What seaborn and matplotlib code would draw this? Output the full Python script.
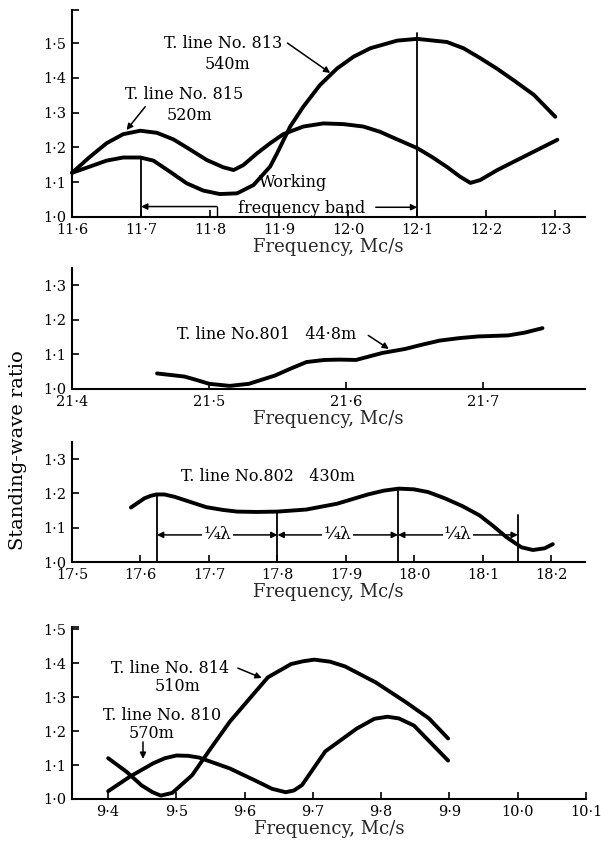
import numpy as np
import pandas as pd
import matplotlib
matplotlib.use('Agg')
import matplotlib.pyplot as plt
import seaborn as sns

# --- data (frequency in Mc/s, standing-wave ratio) ---

# top panel: lines 813 and 815
f813 = [11.6, 11.626, 11.65, 11.674, 11.699, 11.718, 11.742, 11.766, 11.79, 11.814,
        11.839, 11.863, 11.887, 11.897, 11.916, 11.935, 11.959, 11.984, 12.008, 12.032,
        12.071, 12.1, 12.143, 12.167, 12.191, 12.215, 12.239, 12.269, 12.3]
s813 = [1.127, 1.145, 1.162, 1.171, 1.171, 1.162, 1.130, 1.097, 1.076, 1.066,
        1.068, 1.092, 1.145, 1.183, 1.26, 1.317, 1.379, 1.427, 1.461, 1.485,
        1.507, 1.512, 1.503, 1.485, 1.457, 1.427, 1.394, 1.351, 1.288]
f815 = [11.6, 11.626, 11.65, 11.674, 11.699, 11.723, 11.747, 11.771, 11.795, 11.819,
        11.834, 11.848, 11.868, 11.887, 11.906, 11.935, 11.964, 11.993, 12.022, 12.046,
        12.071, 12.1, 12.121, 12.143, 12.162, 12.177, 12.191, 12.216, 12.259, 12.303]
s815 = [1.127, 1.173, 1.212, 1.238, 1.248, 1.242, 1.223, 1.194, 1.164, 1.143,
        1.135, 1.149, 1.183, 1.212, 1.238, 1.26, 1.269, 1.267, 1.26, 1.245,
        1.223, 1.198, 1.173, 1.144, 1.116, 1.098, 1.106, 1.135, 1.178, 1.222]
band_edges = [11.7, 12.1]
band_tops = [1.171, 1.53]
ticks1 = [11.6, 11.7, 11.8, 11.9, 12.0, 12.1, 12.2, 12.3]

# second panel: line 801
f801 = [21.462, 21.482, 21.49, 21.5, 21.515, 21.529, 21.548, 21.56, 21.571, 21.584,
        21.595, 21.607, 21.626, 21.643, 21.655, 21.668, 21.682, 21.696, 21.718, 21.73,
        21.743]
s801 = [1.045, 1.036, 1.027, 1.015, 1.009, 1.015, 1.039, 1.06, 1.078, 1.084,
        1.085, 1.084, 1.104, 1.116, 1.128, 1.14, 1.147, 1.152, 1.155, 1.163,
        1.176]
ticks2 = [21.4, 21.5, 21.6, 21.7]

# third panel: line 802 and quarter-wave markers
f802 = [17.586, 17.606, 17.615, 17.623, 17.635, 17.65, 17.696, 17.72, 17.741, 17.77,
        17.8, 17.842, 17.887, 17.932, 17.955, 17.977, 17.999, 18.02, 18.044, 18.07,
        18.095, 18.115, 18.134, 18.156, 18.173, 18.19, 18.202]
s802 = [1.159, 1.186, 1.193, 1.197, 1.197, 1.19, 1.16, 1.152, 1.147, 1.146,
        1.147, 1.153, 1.17, 1.197, 1.208, 1.214, 1.212, 1.204, 1.186, 1.163,
        1.136, 1.105, 1.073, 1.043, 1.035, 1.04, 1.052]
quarter_f = [17.624, 17.80, 17.976, 18.151]
quarter_top = [1.197, 1.147, 1.214, 1.136]
ticks3 = [17.5, 17.6, 17.7, 17.8, 17.9, 18.0, 18.1, 18.2]

# bottom panel: lines 814 and 810
f814 = [9.4, 9.427, 9.449, 9.465, 9.477, 9.494, 9.523, 9.55, 9.578, 9.607,
        9.634, 9.668, 9.685, 9.702, 9.725, 9.747, 9.792, 9.836, 9.87, 9.898]
s814 = [1.12, 1.08, 1.04, 1.02, 1.01, 1.018, 1.07, 1.148, 1.227, 1.295,
        1.358, 1.397, 1.405, 1.41, 1.404, 1.39, 1.343, 1.285, 1.237, 1.178]
f810 = [9.4, 9.432, 9.466, 9.483, 9.5, 9.517, 9.533, 9.578, 9.623, 9.64,
        9.66, 9.672, 9.684, 9.718, 9.764, 9.79, 9.809, 9.826, 9.848, 9.898]
s810 = [1.023, 1.066, 1.105, 1.12, 1.128, 1.127, 1.122, 1.09, 1.047, 1.03,
        1.02, 1.025, 1.041, 1.14, 1.207, 1.236, 1.242, 1.237, 1.216, 1.113]
ticks4 = [9.4, 9.5, 9.6, 9.7, 9.8, 9.9, 10.0, 10.1]

sns.set_style('ticks')
plt.rcParams['font.family'] = ['DejaVu Serif']
plt.rcParams['axes.edgecolor'] = 'black'
plt.rcParams['xtick.color'] = 'black'
plt.rcParams['ytick.color'] = 'black'
plt.rcParams['text.color'] = 'black'

W, H = 601, 849
fig = plt.figure(figsize=(W / 100, H / 100), dpi=100)


def make_ax(x0, x1, ytop, ybot):
    # pixel box -> figure fraction
    return fig.add_axes([x0 / W, 1 - ybot / H, (x1 - x0) / W, (ybot - ytop) / H])


def dot(v):
    return '{:.1f}'.format(v).replace('.', '\u00b7')


def style(ax, xt, yt, xlim, ylim, top_tick=False):
    ax.set_xlim(*xlim)
    ax.set_ylim(*ylim)
    ax.set_xticks(xt, labels=[dot(t) for t in xt])
    ylab = [dot(t) for t in yt]
    if top_tick:
        yt = yt + [ylim[1]]
        ylab = ylab + ['']
    ax.set_yticks(yt, labels=ylab)
    sns.despine(ax=ax)
    for s in ['left', 'bottom']:
        ax.spines[s].set_linewidth(1.5)
    ax.tick_params(direction='in', length=5, width=1.2, labelsize=10.5, pad=4)
    ax.set_xlabel('Frequency, Mc/s', fontsize=13, labelpad=1)
    ax.set_ylabel('')


def curve(ax, f, s):
    sns.lineplot(x=f, y=s, ax=ax, color='black', lw=2.8, sort=False,
                 estimator=None, clip_on=False,
                 solid_joinstyle='round', solid_capstyle='round')


def arrow(ax, start, end, style='-|>'):
    ax.annotate('', xy=end, xytext=start,
                arrowprops=dict(arrowstyle=style, color='black', lw=1.1,
                                mutation_scale=9, shrinkA=0, shrinkB=0))


txt = dict(fontsize=11.5, ha='center', va='center')

# ---- panel 1 ----
ax1 = make_ax(72, 585, 10, 217)
curve(ax1, f813, s813)
curve(ax1, f815, s815)
for xe, yt in zip(band_edges, band_tops):
    ax1.plot([xe, xe], [1.0, yt], color='black', lw=1.3)
ax1.text(11.819, 1.50, 'T. line No. 813', **txt)
ax1.text(11.825, 1.437, '540m', **txt)
arrow(ax1, (11.912, 1.50), (11.974, 1.414))
ax1.text(11.762, 1.351, 'T. line No. 815', **txt)
ax1.text(11.77, 1.293, '520m', **txt)
arrow(ax1, (11.706, 1.317), (11.679, 1.25))
arrow(ax1, (11.81, 1.03), (11.70, 1.03))
ax1.plot([11.81, 11.81], [1.0, 1.03], color='black', lw=1.0)
ax1.text(11.92, 1.098, 'Working', **txt)
ax1.text(11.933, 1.025, 'frequency band', **txt)
arrow(ax1, (12.04, 1.028), (12.1, 1.028))
style(ax1, ticks1, [1.0, 1.1, 1.2, 1.3, 1.4, 1.5], (11.6, 12.343), (1.0, 1.595), top_tick=True)

# ---- panel 2 ----
ax2 = make_ax(72, 585, 268, 389)
curve(ax2, f801, s801)
ax2.text(21.542, 1.157, 'T. line No.801   44\u00b78m', **txt)
arrow(ax2, (21.616, 1.155), (21.631, 1.116))
style(ax2, ticks2, [1.0, 1.1, 1.2, 1.3], (21.4, 21.774), (1.0, 1.35))

# ---- panel 3 ----
ax3 = make_ax(72, 585, 442, 562)
curve(ax3, f802, s802)
for xq, yq in zip(quarter_f, quarter_top):
    ax3.plot([xq, xq], [1.0, yq], color='black', lw=1.3)
for a, b in zip(quarter_f[:-1], quarter_f[1:]):
    arrow(ax3, (a, 1.079), (b, 1.079), style='<|-|>')
    ax3.text((a + b) / 2, 1.079, '\u00bc\u03bb', fontsize=12.5, ha='center', va='center',
             bbox=dict(facecolor='white', edgecolor='none', pad=1))
ax3.text(17.786, 1.248, 'T. line No.802   430m', **txt)
style(ax3, ticks3, [1.0, 1.1, 1.2, 1.3], (17.5, 18.249), (1.0, 1.35))

# ---- panel 4 ----
ax4 = make_ax(72, 586, 627, 799)
curve(ax4, f814, s814)
curve(ax4, f810, s810)
ax4.text(9.491, 1.385, 'T. line No. 814', **txt)
ax4.text(9.501, 1.33, '510m', **txt)
arrow(ax4, (9.59, 1.385), (9.625, 1.356))
ax4.text(9.479, 1.247, 'T. line No. 810', **txt)
ax4.text(9.464, 1.194, '570m', **txt)
arrow(ax4, (9.451, 1.168), (9.451, 1.118))
style(ax4, ticks4, [1.0, 1.1, 1.2, 1.3, 1.4, 1.5], (9.347, 10.1), (1.0, 1.506), top_tick=True)

fig.text(18 / W, 1 - 450 / H, 'Standing-wave ratio', rotation=90,
         ha='center', va='center', fontsize=14)

fig.savefig('out.png', dpi=100, facecolor='white')
